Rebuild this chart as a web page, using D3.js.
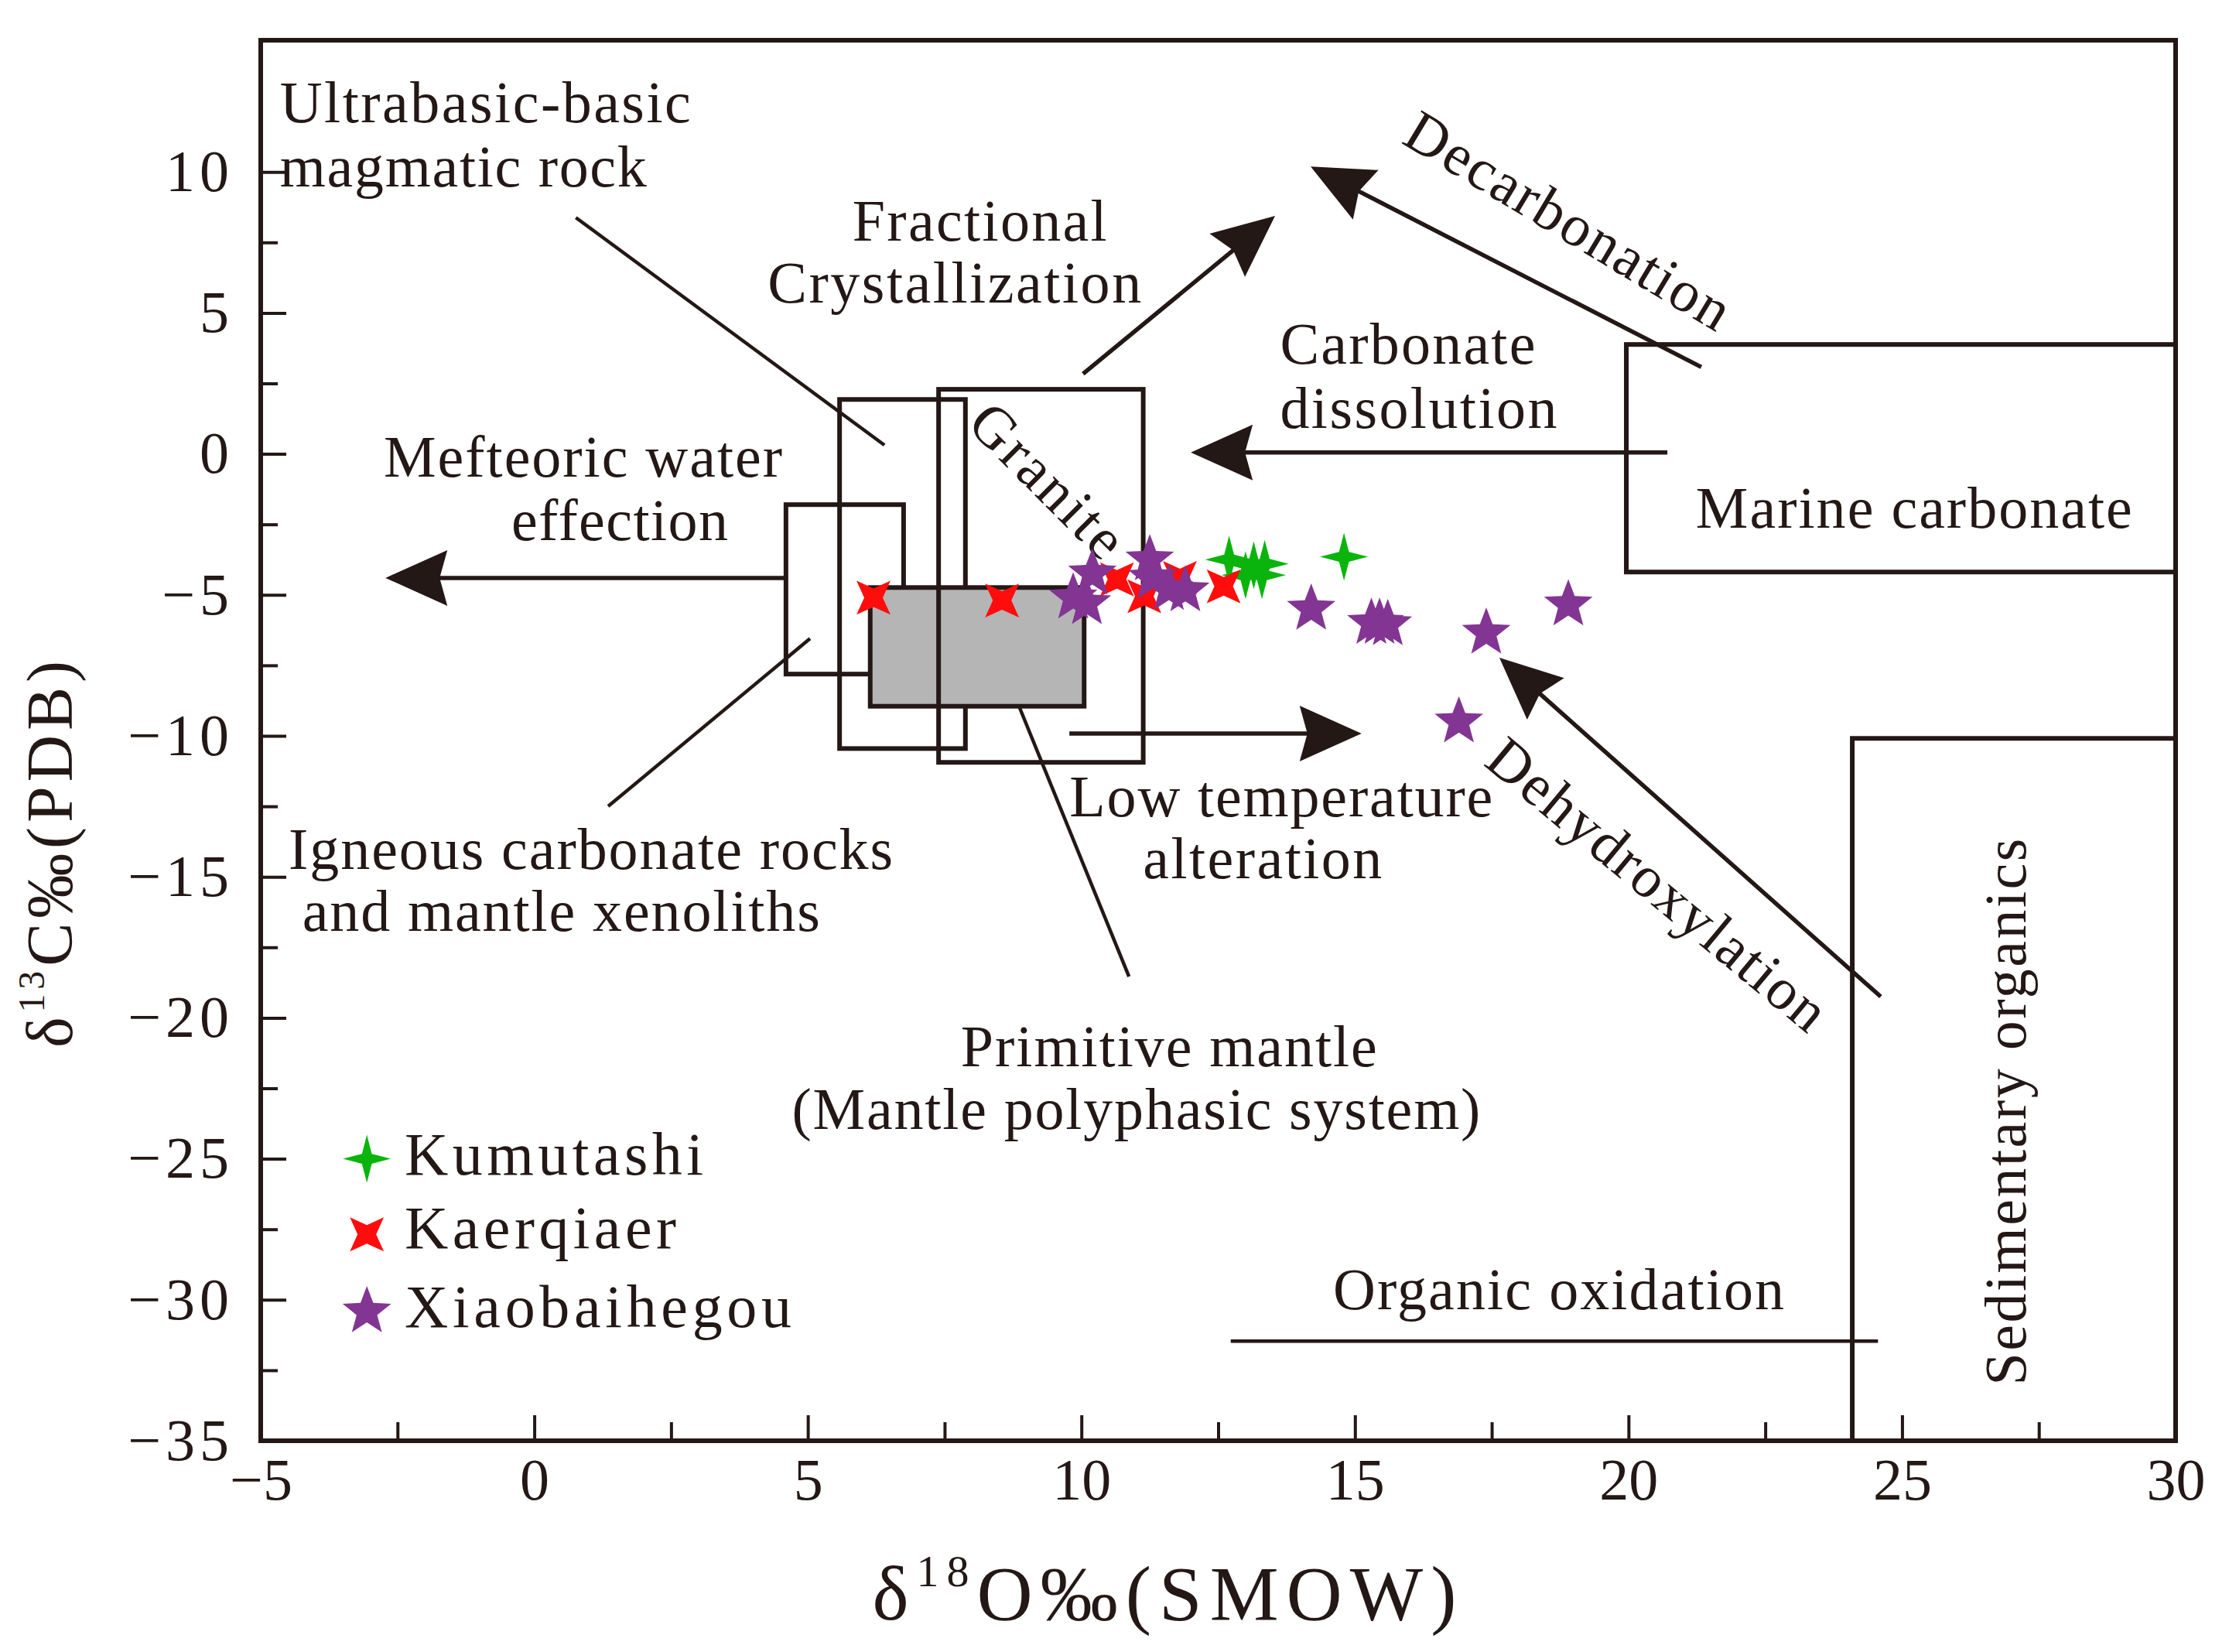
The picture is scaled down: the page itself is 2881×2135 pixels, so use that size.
<!DOCTYPE html>
<html><head><meta charset="utf-8">
<script src="https://cdn.jsdelivr.net/npm/d3@7"></script>
<style>
html,body{margin:0;padding:0;background:#fff;}
svg{display:block;}
text{font-family:"Liberation Serif","Times New Roman",serif;fill:#231815;}
</style></head><body>
<svg id="chart" width="2881" height="2135"></svg>
<script>
// ---------------- data ----------------
const xDomain = [-5, 30];
const yDomain = [-35, 14.67];
const xTicks = [-5, 0, 5, 10, 15, 20, 25, 30];
const yTicks = [-35, -30, -25, -20, -15, -10, -5, 0, 5, 10];
const xMinorTicks = [-2.5, 2.5, 7.5, 12.5, 17.5, 22.5, 27.5];
const yMinorTicks = [-32.5, -27.5, -22.5, -17.5, -12.5, -7.5, -2.5, 2.5, 7.5];

const seriesNames = ["Kumutashi", "Kaerqiaer", "Xiaobaihegou"];
const kumutashiO = [12.7, 13.15, 13.35, 13.0, 13.3, 14.8];
const kumutashiC = [-3.75, -3.95, -3.9, -4.3, -4.3, -3.65];
const kaerqiaerO = [6.2, 8.55, 10.65, 11.15, 11.8, 12.6];
const kaerqiaerC = [-5.1, -5.2, -4.45, -5.05, -4.4, -4.7];
const xiaobaihegouO = [9.85, 10.1, 10.2, 11.25, 11.3, 11.6, 11.9, 14.2, 15.3, 15.45, 15.6, 17.4, 18.9, 16.9];
const xiaobaihegouC = [-5.1, -5.3, -4.25, -3.75, -4.4, -4.8, -4.85, -5.5, -6.0, -6.0, -6.05, -6.35, -5.35, -9.5];

// field boxes (data units)
const fieldNames = ["meteoric", "ultrabasic", "primitive", "granite", "marine", "sedimentary"];
const fieldX0 = [4.6, 5.58, 6.14, 7.39, 19.96, 24.09];
const fieldX1 = [6.75, 7.88, 10.05, 11.13, 30, 30];
const fieldY0 = [-7.81, -10.45, -8.95, -10.94, -4.19, -35];
const fieldY1 = [-1.8, 1.93, -4.74, 2.29, 3.88, -10.09];

// arrows (from -> tip) in data units
const arrowX1 = [21.33, 10.03, 20.71, 4.6, 9.78, 24.61];
const arrowY1 = [3.08, 2.84, 0.05, -4.4, -9.92, -19.25];
const arrowX2 = [14.19, 13.54, 12.0, -2.72, 15.12, 17.64];
const arrowY2 = [10.19, 8.44, 0.05, -4.4, -9.92, -7.23];

// leader lines
const leaderX1 = [0.76, 1.35, 8.86, 12.73];
const leaderY1 = [8.38, -12.5, -8.95, -31.47];
const leaderX2 = [6.40, 5.04, 10.87, 24.56];
const leaderY2 = [0.31, -6.55, -18.54, -31.47];

// text annotations
const labelTexts = ["Ultrabasic-basic", "magmatic rock", "Fractional", "Crystallization", "Carbonate", "dissolution",
  "Mefteoric water", "effection", "Marine carbonate", "Low temperature", "alteration", "Igneous carbonate rocks",
  "and mantle xenoliths", "Primitive mantle", "(Mantle polyphasic system)", "Organic oxidation"];
const labelX = [-4.65, -4.65, 8.14, 7.68, 13.63, 13.63, 0.89, 1.56, 21.23, 13.65, 13.31, -4.49, -4.24, 11.6, 11.0, 14.6];
const labelY = [11.76, 9.48, 7.56, 5.36, 3.19, 0.92, -0.81, -3.06, -2.62, -12.86, -15.05, -14.73, -16.92, -21.72, -23.95, -30.34];
const labelAnchor = ["start", "start", "middle", "middle", "start", "start", "middle", "middle", "start", "middle", "middle", "start", "start", "middle", "middle", "start"];
const labelLen = [531, 474, 329, 483, 330, 358, 515, 280, 564, 547, 309, 781, 669, 538, 890, 583];

const rotTexts = ["Decarbonation", "Granite", "Dehydroxylation"];
const rotX = [18.9, 9.38, 20.53];
const rotY = [8.27, -0.95, -15.27];
const rotAngle = [31, 45, 39.7];
const rotLen = [477, 250, 547];

const vertText = "Sedimentary organics";
const vertX = 27.26, vertY = -23.34;

// legend
const legendX = -3.06, legendTextX = -2.37;
const legendY = [-25.0, -27.68, -30.42];
const legendTextY = [-25.57, -28.17, -30.97];
const legendLen = [386, 351, 500];

// ---------------- drawing ----------------
const W = 2881, H = 2135;
const m = {left: 337, right: 2812, top: 52, bottom: 1862};
const ink = "#231815";
const colors = ["#0ab40c", "#ff0d0d", "#833593"];

const svg = d3.select("#chart");
svg.append("rect").attr("width", W).attr("height", H).attr("fill", "#fff");

const x = d3.scaleLinear().domain(xDomain).range([m.left, m.right]);
const y = d3.scaleLinear().domain(yDomain).range([m.bottom, m.top]);

// fields: meteoric & ultrabasic first, then grey primitive, then granite, marine, sedimentary
const fieldOrder = [0, 1, 2, 3, 4, 5];
svg.append("g").selectAll("rect").data(fieldOrder).join("rect")
  .attr("x", i => x(fieldX0[i]))
  .attr("y", i => y(fieldY1[i]))
  .attr("width", i => x(fieldX1[i]) - x(fieldX0[i]))
  .attr("height", i => y(fieldY0[i]) - y(fieldY1[i]))
  .attr("fill", i => fieldNames[i] === "primitive" ? "#b5b5b6" : "none")
  .attr("stroke", ink).attr("stroke-width", 6);

// leader lines
svg.append("g").selectAll("line").data(d3.range(leaderX1.length)).join("line")
  .attr("x1", i => x(leaderX1[i])).attr("y1", i => y(leaderY1[i]))
  .attr("x2", i => x(leaderX2[i])).attr("y2", i => y(leaderY2[i]))
  .attr("stroke", ink).attr("stroke-width", 4.5);

// arrows
const ag = svg.append("g");
d3.range(arrowX1.length).forEach(i => {
  const px1 = x(arrowX1[i]), py1 = y(arrowY1[i]), px2 = x(arrowX2[i]), py2 = y(arrowY2[i]);
  const ang = Math.atan2(py2 - py1, px2 - px1);
  const L = 80, hw = 36, notch = 70;
  ag.append("line")
    .attr("x1", px1).attr("y1", py1)
    .attr("x2", px2 - Math.cos(ang) * (notch - 4)).attr("y2", py2 - Math.sin(ang) * (notch - 4))
    .attr("stroke", ink).attr("stroke-width", 5.5);
  ag.append("path")
    .attr("d", `M0,0 L${-L},${-hw} L${-notch},0 L${-L},${hw} Z`)
    .attr("transform", `translate(${px2},${py2}) rotate(${ang * 180 / Math.PI})`)
    .attr("fill", ink);
});

// frame
svg.append("rect")
  .attr("x", m.left).attr("y", m.top)
  .attr("width", m.right - m.left).attr("height", m.bottom - m.top)
  .attr("fill", "none").attr("stroke", ink).attr("stroke-width", 6);

// axes
const fontFam = '"Liberation Serif","Times New Roman",serif';
const xAxis = svg.append("g").attr("transform", `translate(0,${m.bottom})`)
  .call(d3.axisBottom(x).tickValues(xTicks).tickSize(-33).tickPadding(22).tickSizeOuter(0));
const xMinor = svg.append("g").attr("transform", `translate(0,${m.bottom})`)
  .call(d3.axisBottom(x).tickValues(xMinorTicks).tickSize(-24).tickFormat("").tickSizeOuter(0));
const yAxis = svg.append("g").attr("transform", `translate(${m.left},0)`)
  .call(d3.axisLeft(y).tickValues(yTicks).tickSize(-33).tickPadding(35).tickSizeOuter(0));
const yMinor = svg.append("g").attr("transform", `translate(${m.left},0)`)
  .call(d3.axisLeft(y).tickValues(yMinorTicks).tickSize(-22).tickFormat("").tickSizeOuter(0));
[xAxis, xMinor, yAxis, yMinor].forEach(g => {
  g.select(".domain").remove();
  g.selectAll(".tick line").attr("stroke", ink).attr("stroke-width", 4);
  g.selectAll(".tick text").attr("font-family", fontFam).attr("font-size", 76).attr("fill", ink);
});
yAxis.selectAll(".tick text").attr("letter-spacing", 6);

// annotation labels
svg.append("g").selectAll("text").data(d3.range(labelTexts.length)).join("text")
  .attr("x", i => x(labelX[i])).attr("y", i => y(labelY[i]))
  .attr("text-anchor", i => labelAnchor[i])
  .attr("font-size", 76)
  .attr("textLength", i => labelLen[i]).attr("lengthAdjust", "spacing")
  .text(i => labelTexts[i]);

svg.append("g").selectAll("text").data(d3.range(rotTexts.length)).join("text")
  .attr("transform", i => `translate(${x(rotX[i])},${y(rotY[i])}) rotate(${rotAngle[i]})`)
  .attr("text-anchor", "middle").attr("dy", "0.33em")
  .attr("font-size", 76)
  .attr("textLength", i => rotLen[i]).attr("lengthAdjust", "spacing")
  .text(i => rotTexts[i]);

svg.append("text")
  .attr("transform", `translate(${x(vertX)},${y(vertY)}) rotate(-90)`)
  .attr("text-anchor", "middle").attr("font-size", 76)
  .attr("textLength", 707).attr("lengthAdjust", "spacing")
  .text(vertText);

// marker shapes
function starPath(n, rOut, rIn, rot) {
  const pts = [];
  for (let k = 0; k < 2 * n; k++) {
    const r = k % 2 === 0 ? rOut : rIn;
    const a = rot + k * Math.PI / n;
    pts.push([r * Math.sin(a), -r * Math.cos(a)]);
  }
  return "M" + pts.map(p => p[0].toFixed(2) + "," + p[1].toFixed(2)).join("L") + "Z";
}
const shapes = [
  starPath(4, 31, 9, 0),               // Kumutashi: four-point star
  starPath(4, 31, 12, Math.PI / 4),    // Kaerqiaer: diagonal four-point star
  starPath(5, 33, 14, 0)               // Xiaobaihegou: five-point star
];
const seriesO = [kumutashiO, kaerqiaerO, xiaobaihegouO];
const seriesC = [kumutashiC, kaerqiaerC, xiaobaihegouC];

const pg = svg.append("g");
[0, 1, 2].forEach(s => {
  pg.append("g").selectAll("path").data(d3.range(seriesO[s].length)).join("path")
    .attr("d", shapes[s])
    .attr("transform", i => `translate(${x(seriesO[s][i])},${y(seriesC[s][i])})`)
    .attr("fill", colors[s]);
});

// legend
const lg = svg.append("g");
seriesNames.forEach((nm, s) => {
  lg.append("path").attr("d", shapes[s])
    .attr("transform", `translate(${x(legendX)},${y(legendY[s])})`)
    .attr("fill", colors[s]);
  lg.append("text").attr("x", x(legendTextX)).attr("y", y(legendTextY[s]))
    .attr("font-size", 78).attr("textLength", legendLen[s]).attr("lengthAdjust", "spacing")
    .text(nm);
});

// axis titles
const xt = svg.append("text")
  .attr("x", 1505).attr("y", m.bottom + 231)
  .attr("text-anchor", "middle").attr("font-size", 100)
  .attr("textLength", 755).attr("lengthAdjust", "spacing");
xt.append("tspan").text("δ");
xt.append("tspan").attr("font-size", 58).attr("dy", "-0.75em").text("18");
xt.append("tspan").attr("dy", "0.435em").text("O‰(SMOW)");

const yt = svg.append("text")
  .attr("transform", `translate(${m.left - 244},${y(-14.2)}) rotate(-90)`)
  .attr("text-anchor", "middle").attr("font-size", 84)
  .attr("textLength", 500).attr("lengthAdjust", "spacing");
yt.append("tspan").text("δ");
yt.append("tspan").attr("font-size", 48).attr("dy", "-0.75em").text("13");
yt.append("tspan").attr("dy", "0.43em").text("C‰(PDB)");
</script>
</body></html>
